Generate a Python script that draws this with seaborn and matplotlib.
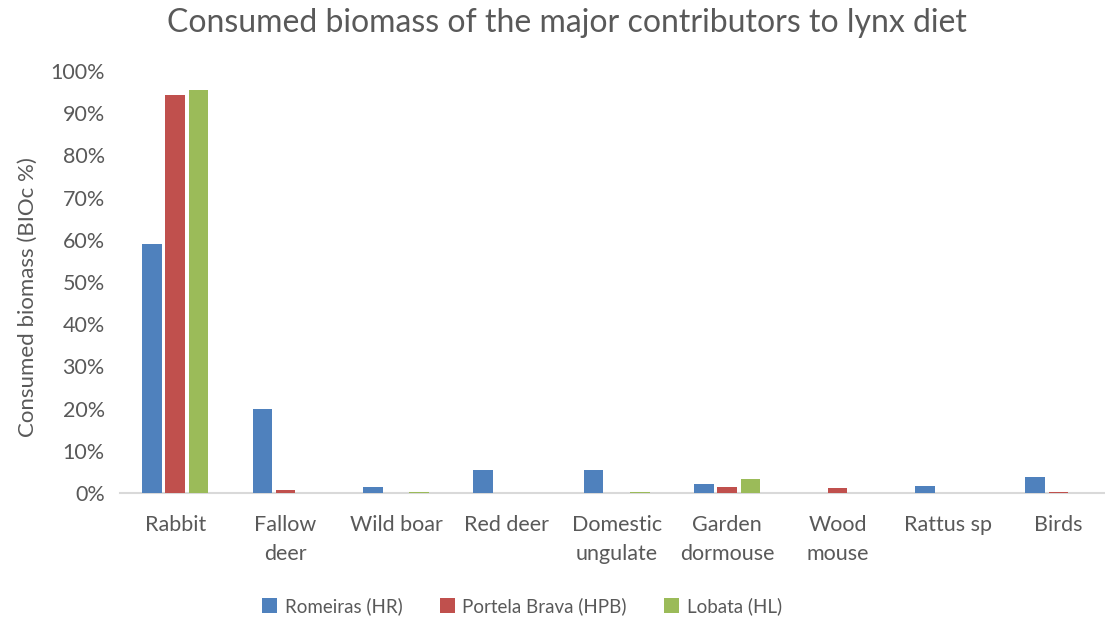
import matplotlib
matplotlib.use("Agg")
import matplotlib.pyplot as plt
import seaborn as sns
import pandas as pd
from matplotlib.ticker import PercentFormatter

categories = ["Rabbit", "Fallow\ndeer", "Wild boar", "Red deer", "Domestic\nungulate",
              "Garden\ndormouse", "Wood\nmouse", "Rattus sp", "Birds"]
romeiras = [59.0, 19.8, 1.4, 5.4, 5.4, 2.1, 0.0, 1.7, 3.7]
portela = [94.3, 0.7, 0.0, 0.0, 0.0, 1.4, 1.3, 0.0, 0.3]
lobata = [95.5, 0.0, 0.2, 0.0, 0.3, 3.4, 0.0, 0.0, 0.0]
series = ["Romeiras (HR)", "Portela Brava (HPB)", "Lobata (HL)"]
colors = ["#4F81BD", "#C0504D", "#9BBB59"]

rows = []
for name, vals in zip(series, [romeiras, portela, lobata]):
    for cat, v in zip(categories, vals):
        rows.append({"Category": cat, "Site": name, "Value": v / 100})
df = pd.DataFrame(rows)

sns.set_theme(style="white")
plt.rcParams["font.family"] = ["Lato", "DejaVu Sans"]
text_color = "#595959"

fig = plt.figure(figsize=(11.05, 6.2), dpi=100)
W, H = 1105, 620
ax = fig.add_axes([120 / W, (H - 493) / H, (W - 120) / W, (493 - 71) / H])

sns.barplot(data=df, x="Category", y="Value", hue="Site", palette=colors,
            order=categories, hue_order=series, width=0.63, gap=0.16,
            saturation=1, edgecolor="none", ax=ax, zorder=3)

ax.set_ylim(0, 1.0)
ax.set_xlim(-0.5, -0.5 + (W - 120) / 110.4)
ax.set_yticks([i / 10 for i in range(11)])
ax.yaxis.set_major_formatter(PercentFormatter(1.0, decimals=0))
ax.tick_params(axis="both", length=0, labelsize=15.5, colors=text_color)
ax.tick_params(axis="x", pad=16)
ax.tick_params(axis="y", pad=11)
for lbl in ax.get_xticklabels():
    lbl.set_linespacing(1.55)

for s in ["top", "right", "left"]:
    ax.spines[s].set_visible(False)
ax.spines["bottom"].set_color("#D9D9D9")
ax.spines["bottom"].set_linewidth(1.5)
ax.spines["bottom"].set_zorder(1)
ax.grid(False)

ax.set_xlabel("")
ax.set_ylabel("Consumed biomass (BIOc %)", fontsize=16, color=text_color)
ax.yaxis.set_label_coords(-82 / (W - 120), (493 - 297) / (493 - 71))

fig.text(567 / W, 1 - 23 / H, "Consumed biomass of the major contributors to lynx diet",
         ha="center", va="center", fontsize=23, color=text_color)

handles, labels = ax.get_legend_handles_labels()
ax.get_legend().remove()
fig.legend(handles, labels, loc="center", bbox_to_anchor=(522 / W, 1 - 606 / H),
           ncol=3, frameon=False, fontsize=13.5, labelcolor=text_color,
           handlelength=0.8, handleheight=0.8, handletextpad=0.4, columnspacing=2.0)

fig.savefig("out.png", dpi=100)
